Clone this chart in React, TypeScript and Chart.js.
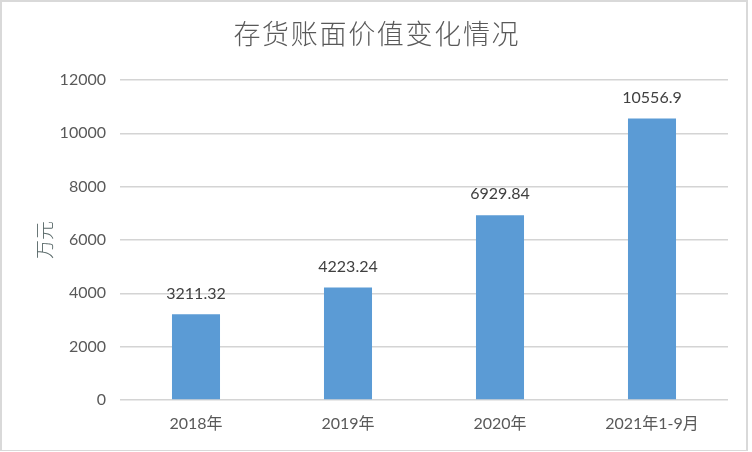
import React, { useEffect, useRef } from "react";
import { Chart, registerables } from "chart.js";

Chart.register(...registerables);

const categories = ["2018年", "2019年", "2020年", "2021年1-9月"];
const values = [3211.32, 4223.24, 6929.84, 10556.9];
const valueLabels = ["3211.32", "4223.24", "6929.84", "10556.9"];
const titleText = "存货账面价值变化情况";
const yAxisTitle = "万元";

const TEXT = "#595959";
const FONT = "Lato, 'Noto Sans CJK SC', sans-serif";

export default function App() {
  const ref = useRef<HTMLCanvasElement | null>(null);

  useEffect(() => {
    document.body.style.margin = "0";
    const canvas = ref.current;
    if (!canvas) return;

    const overlay = {
      id: "overlay",
      afterDatasetsDraw(chart: any) {
        const ctx = chart.ctx;
        ctx.save();
        // data labels
        const meta = chart.getDatasetMeta(0);
        ctx.fillStyle = "#404040";
        ctx.font = `16px ${FONT}`;
        ctx.textAlign = "center";
        ctx.textBaseline = "middle";
        meta.data.forEach((bar: any, i: number) => {
          ctx.fillText(valueLabels[i], bar.x, bar.y - 21);
        });
        // title
        ctx.fillStyle = TEXT;
        ctx.font = `300 27px 'Noto Sans CJK SC', sans-serif`;
        ctx.textAlign = "center";
        ctx.textBaseline = "middle";
        const title = titleText.split("").join(String.fromCharCode(8202));
        ctx.fillText(title, 376, 34);
        // y axis title
        ctx.translate(45, 240);
        ctx.rotate(-Math.PI / 2);
        ctx.font = `300 19px 'Noto Sans CJK SC', sans-serif`;
        ctx.fillStyle = "#5a6a6a";
        ctx.fillText(yAxisTitle, 0, 0);
        ctx.restore();
      },
    };

    const chart = new Chart(canvas, {
      type: "bar",
      data: {
        labels: categories,
        datasets: [
          {
            data: values,
            backgroundColor: "#5B9BD5",
            barPercentage: 0.316,
            categoryPercentage: 1,
          },
        ],
      },
      options: {
        animation: false,
        responsive: false,
        maintainAspectRatio: false,
        layout: { padding: { top: 80, right: 24, left: 0, bottom: 0 } },
        plugins: {
          legend: { display: false },
          title: { display: false },
          tooltip: { enabled: false },
        },
        scales: {
          x: {
            grid: { display: false, drawTicks: false },
            border: { display: false },
            ticks: {
              color: TEXT,
              font: { family: FONT, size: 16 },
              padding: 14,
              maxRotation: 0,
            },
            afterFit: (scale: any) => {
              scale.height = 52;
            },
          },
          y: {
            min: 0,
            max: 12000,
            grid: { color: "#D4D4D4", lineWidth: 1.5, drawTicks: false },
            border: { display: false },
            ticks: {
              stepSize: 2000,
              color: TEXT,
              font: { family: FONT, size: 16 },
              padding: 14,
              callback: (v: any) => String(v),
            },
            afterFit: (scale: any) => {
              scale.width = 120;
            },
          },
        },
      },
      plugins: [overlay],
    });

    return () => chart.destroy();
  }, []);

  return (
    <div
      style={{
        position: "fixed",
        left: 0,
        top: 0,
        width: 752,
        height: 452,
        background: "#fff",
      }}
    >
      <canvas ref={ref} width={752} height={452} style={{ display: "block" }} />
      <div
        style={{
          position: "absolute",
          left: 0,
          top: 0,
          width: 748,
          height: 451,
          border: "2px solid #D9D9D9",
          borderBottomWidth: 1,
          boxSizing: "border-box",
          pointerEvents: "none",
        }}
      />
    </div>
  );
}
